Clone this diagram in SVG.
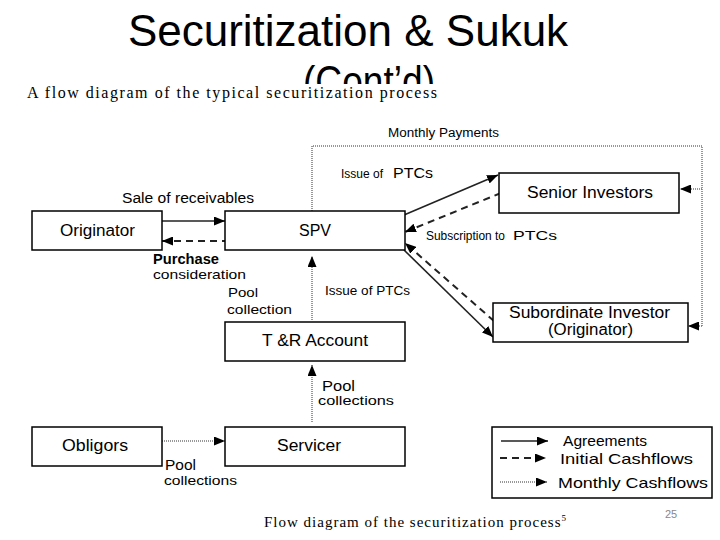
<svg xmlns="http://www.w3.org/2000/svg" width="720" height="540" viewBox="0 0 720 540">
<style>
.box{fill:#fff;stroke:#000;stroke-width:1.5}
.lbl{font-family:"Liberation Sans",Arial,sans-serif;fill:#000}
.ser{font-family:"Liberation Serif","Times New Roman",serif;fill:#000}
.solid{stroke:#222;stroke-width:1.6;fill:none}
.dash{stroke:#222;stroke-width:2;stroke-dasharray:7,5;fill:none}
.dot{stroke:#777;stroke-width:1.5;stroke-dasharray:1,1;fill:none}
</style>
<defs>
<marker id="arr" markerUnits="userSpaceOnUse" markerWidth="11" markerHeight="9" refX="11" refY="4.5" orient="auto"><path d="M0,0 L11,4.5 L0,9 z" fill="#000"/></marker>
<clipPath id="titleclip"><rect x="0" y="0" width="720" height="84"/></clipPath>
</defs>
<rect width="720" height="540" fill="#fff"/>
<g id="title" clip-path="url(#titleclip)">
<text class="lbl" x="348" y="46" font-size="44" text-anchor="middle">Securitization &amp; Sukuk</text>
<text class="lbl" x="303" y="97" font-size="44" textLength="132" lengthAdjust="spacingAndGlyphs">(Cont’d)</text>
</g>
<text class="ser" x="27" y="98" font-size="16" textLength="410" lengthAdjust="spacing">A flow diagram of the typical securitization process</text>

<g id="connectors">
<line class="solid" x1="160" y1="221" x2="225" y2="221" marker-end="url(#arr)" stroke="#444" stroke-width="2"/>
<line class="dash" x1="229" y1="241" x2="162" y2="241" marker-end="url(#arr)"/>
<line class="solid" x1="404" y1="215" x2="498" y2="175" marker-end="url(#arr)"/>
<line class="dash" x1="501" y1="193" x2="405" y2="232" marker-end="url(#arr)"/>
<line class="solid" x1="404" y1="250" x2="493" y2="337" marker-end="url(#arr)"/>
<line class="dash" x1="494" y1="321" x2="405" y2="243" marker-end="url(#arr)"/>
<line class="dot" x1="312" y1="320" x2="312" y2="256" marker-end="url(#arr)"/>
<line class="dot" x1="312" y1="422" x2="312" y2="365" marker-end="url(#arr)"/>
<line class="dot" x1="160" y1="441" x2="225" y2="441" marker-end="url(#arr)"/>
<path class="dot" d="M312,211 V146 H702 V326"/>
<line class="dot" x1="702" y1="189" x2="680" y2="189" marker-end="url(#arr)"/>
<line class="dot" x1="702" y1="326" x2="688" y2="326" marker-end="url(#arr)"/>
</g>

<g id="originator"><rect class="box" x="32" y="211" width="130" height="39"/><text class="lbl" x="60" y="236" font-size="16" textLength="75" lengthAdjust="spacingAndGlyphs">Originator</text></g>
<g id="spv"><rect class="box" x="225" y="211" width="180" height="39"/><text class="lbl" x="299" y="236" font-size="16" textLength="32" lengthAdjust="spacingAndGlyphs">SPV</text></g>
<g id="senior"><rect class="box" x="499" y="173" width="180" height="40"/><text class="lbl" x="527" y="198" font-size="16" textLength="126" lengthAdjust="spacingAndGlyphs">Senior Investors</text></g>
<g id="subordinate"><rect class="box" x="493" y="303" width="195" height="39"/><text class="lbl" x="509" y="318" font-size="16" textLength="161" lengthAdjust="spacingAndGlyphs">Subordinate Investor</text><text class="lbl" x="548" y="335" font-size="16" textLength="85" lengthAdjust="spacingAndGlyphs">(Originator)</text></g>
<g id="tr"><rect class="box" x="225" y="322" width="180" height="39"/><text class="lbl" x="262" y="346" font-size="16" textLength="106" lengthAdjust="spacingAndGlyphs">T &amp;R Account</text></g>
<g id="obligors"><rect class="box" x="32" y="427" width="130" height="39"/><text class="lbl" x="62" y="451" font-size="16" textLength="66" lengthAdjust="spacingAndGlyphs">Obligors</text></g>
<g id="servicer"><rect class="box" x="225" y="427" width="180" height="39"/><text class="lbl" x="277" y="451" font-size="16" textLength="64" lengthAdjust="spacingAndGlyphs">Servicer</text></g>

<g id="labels">
<text class="lbl" x="388" y="137" font-size="12" textLength="111" lengthAdjust="spacingAndGlyphs">Monthly Payments</text>
<text class="lbl" y="178"><tspan x="341" font-size="12" textLength="42" lengthAdjust="spacingAndGlyphs">Issue of</tspan><tspan x="393" font-size="15" textLength="40" lengthAdjust="spacingAndGlyphs">PTCs</tspan></text>
<text class="lbl" x="122" y="203" font-size="14" textLength="132" lengthAdjust="spacingAndGlyphs">Sale of receivables</text>
<text class="lbl" y="240"><tspan x="426" font-size="12" textLength="79" lengthAdjust="spacingAndGlyphs">Subscription to</tspan><tspan x="513" font-size="13" textLength="44" lengthAdjust="spacingAndGlyphs">PTCs</tspan></text>
<text class="lbl" x="153" y="264" font-size="14" font-weight="bold" textLength="66" lengthAdjust="spacingAndGlyphs">Purchase</text>
<text class="lbl" x="153" y="279" font-size="13" textLength="93" lengthAdjust="spacingAndGlyphs">consideration</text>
<text class="lbl" x="228" y="297" font-size="13" textLength="30" lengthAdjust="spacingAndGlyphs">Pool</text>
<text class="lbl" x="227" y="314" font-size="13" textLength="65" lengthAdjust="spacingAndGlyphs">collection</text>
<text class="lbl" x="325" y="295" font-size="12" textLength="85" lengthAdjust="spacingAndGlyphs">Issue of PTCs</text>
<text class="lbl" x="322" y="391" font-size="14" textLength="33" lengthAdjust="spacingAndGlyphs">Pool</text>
<text class="lbl" x="318" y="405" font-size="13" textLength="76" lengthAdjust="spacingAndGlyphs">collections</text>
<text class="lbl" x="165" y="470" font-size="14" textLength="31" lengthAdjust="spacingAndGlyphs">Pool</text>
<text class="lbl" x="164" y="485" font-size="13" textLength="73" lengthAdjust="spacingAndGlyphs">collections</text>
</g>

<g id="legend">
<rect x="492" y="427" width="220" height="71" fill="#fff" stroke="#000" stroke-width="1.5"/>
<line class="solid" x1="501" y1="441" x2="548" y2="441" marker-end="url(#arr)"/>
<line class="dash" x1="500" y1="458" x2="546" y2="458" marker-end="url(#arr)" stroke-dasharray="6,5"/>
<line class="dot" x1="500" y1="482" x2="547" y2="482" marker-end="url(#arr)"/>
<text class="lbl" x="563" y="446" font-size="15" textLength="84" lengthAdjust="spacingAndGlyphs">Agreements</text>
<text class="lbl" x="560" y="464" font-size="15" textLength="133" lengthAdjust="spacingAndGlyphs">Initial Cashflows</text>
<text class="lbl" x="558" y="488" font-size="15" textLength="150" lengthAdjust="spacingAndGlyphs">Monthly Cashflows</text>
</g>

<text class="ser" x="264" y="527" font-size="15" textLength="302" lengthAdjust="spacing">Flow diagram of the securitization process<tspan font-size="9" dy="-6">5</tspan></text>
<text class="lbl" x="665" y="518" font-size="11" style="fill:#888">25</text>
</svg>
